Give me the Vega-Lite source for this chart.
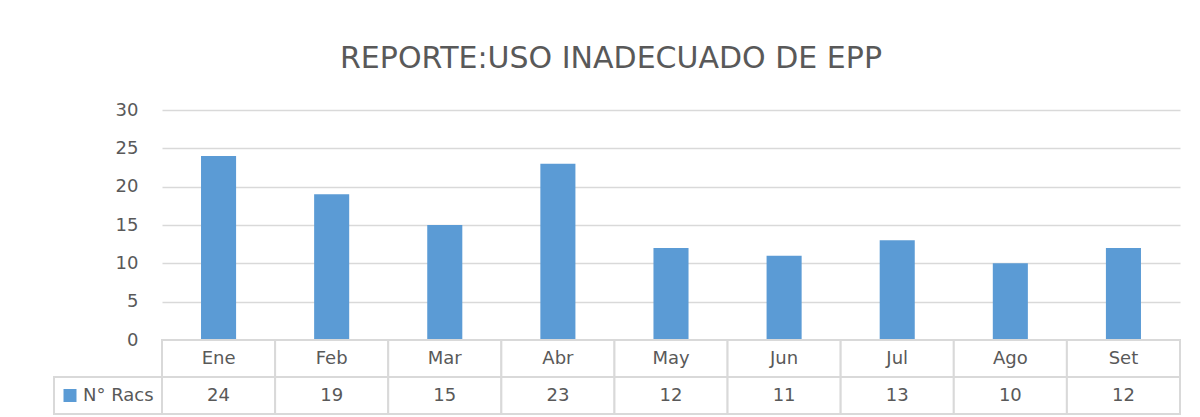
{
  "$schema": "https://vega.github.io/schema/vega-lite/v6.json",
  "padding": {"left": 53, "top": 44, "right": 5, "bottom": 2},
  "background": "white",
  "title": {
    "text": "REPORTE:USO INADECUADO DE EPP",
    "font": "DejaVu Sans",
    "fontSize": 30,
    "fontWeight": "normal",
    "color": "#595959",
    "anchor": "middle",
    "offset": 27,
    "dx": -6
  },
  "datasets": {
    "racs": [
      {"mes": "Ene", "n": 24},
      {"mes": "Feb", "n": 19},
      {"mes": "Mar", "n": 15},
      {"mes": "Abr", "n": 23},
      {"mes": "May", "n": 12},
      {"mes": "Jun", "n": 11},
      {"mes": "Jul", "n": 13},
      {"mes": "Ago", "n": 10},
      {"mes": "Set", "n": 12}
    ],
    "serie": [{"serie": "N° Racs"}]
  },
  "columns": 2,
  "spacing": 0,
  "bounds": "flush",
  "align": "each",
  "concat": [
    {
      "width": 108,
      "height": 230,
      "data": {"values": []},
      "mark": "point",
      "encoding": {}
    },
    {
      "width": 1018,
      "height": 230,
      "data": {"name": "racs"},
      "mark": {"type": "bar", "color": "#5B9BD5"},
      "encoding": {
        "x": {
          "field": "mes",
          "type": "nominal",
          "sort": null,
          "scale": {"paddingInner": 0.69, "paddingOuter": 0.345},
          "axis": null
        },
        "y": {
          "field": "n",
          "type": "quantitative",
          "scale": {"domain": [0, 30], "nice": false},
          "axis": {
            "values": [0, 5, 10, 15, 20, 25, 30],
            "title": null,
            "domain": false,
            "ticks": false,
            "tickSize": 0,
            "labelPadding": 24,
            "labelFont": "DejaVu Sans",
            "labelFontSize": 18,
            "labelColor": "#595959",
            "grid": true,
            "gridColor": "#D9D9D9",
            "gridWidth": 1.5
          }
        }
      }
    },
    {
      "width": 108,
      "height": 74,
      "data": {"name": "serie"},
      "layer": [
        {
          "mark": {"type": "rect", "fill": "white", "stroke": "#D9D9D9", "strokeWidth": 2},
          "encoding": {
            "x": {"field": "serie", "type": "nominal", "scale": {"paddingInner": 0, "paddingOuter": 0}, "axis": null},
            "y": {"datum": "val", "type": "ordinal", "scale": {"domain": ["cat", "val"], "paddingInner": 0, "paddingOuter": 0}, "axis": null}
          }
        },
        {
          "mark": {"type": "point", "shape": "square", "filled": true, "opacity": 1, "size": 169, "color": "#5B9BD5", "xOffset": -38},
          "encoding": {
            "x": {"field": "serie", "type": "nominal"},
            "y": {"datum": "val", "type": "ordinal"}
          }
        },
        {
          "mark": {"type": "text", "align": "left", "baseline": "middle", "dx": -25, "font": "DejaVu Sans", "fontSize": 18, "color": "#595959"},
          "encoding": {
            "x": {"field": "serie", "type": "nominal"},
            "y": {"datum": "val", "type": "ordinal"},
            "text": {"field": "serie"}
          }
        }
      ]
    },
    {
      "width": 1018,
      "height": 74,
      "data": {"name": "racs"},
      "encoding": {
        "x": {"field": "mes", "type": "nominal", "sort": null, "scale": {"paddingInner": 0, "paddingOuter": 0}, "axis": null}
      },
      "layer": [
        {
          "mark": {"type": "rect", "fill": "white", "stroke": "#D9D9D9", "strokeWidth": 2},
          "encoding": {
            "y": {"datum": "cat", "type": "ordinal", "scale": {"domain": ["cat", "val"], "paddingInner": 0, "paddingOuter": 0}, "axis": null}
          }
        },
        {
          "mark": {"type": "rect", "fill": "white", "stroke": "#D9D9D9", "strokeWidth": 2},
          "encoding": {
            "y": {"datum": "val", "type": "ordinal"}
          }
        },
        {
          "mark": {"type": "text", "baseline": "middle", "font": "DejaVu Sans", "fontSize": 18, "color": "#595959"},
          "encoding": {
            "y": {"datum": "cat", "type": "ordinal"},
            "text": {"field": "mes"}
          }
        },
        {
          "mark": {"type": "text", "baseline": "middle", "font": "DejaVu Sans", "fontSize": 18, "color": "#595959"},
          "encoding": {
            "y": {"datum": "val", "type": "ordinal"},
            "text": {"field": "n", "type": "quantitative"}
          }
        }
      ]
    }
  ],
  "config": {
    "view": {"stroke": null},
    "font": "DejaVu Sans"
  }
}
